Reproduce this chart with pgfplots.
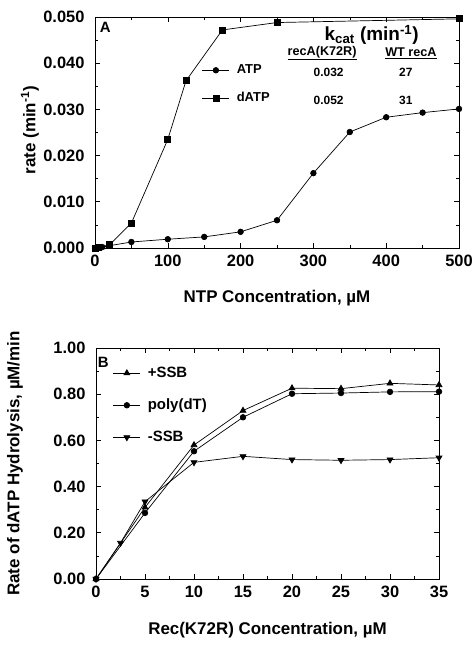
\documentclass[border=0pt]{standalone}
\usepackage{fontspec}
\setmainfont{Liberation Sans}
\usepackage{pgfplots}
\pgfplotsset{compat=1.18}
\begin{document}
\begin{tikzpicture}
\useasboundingbox (0bp,0bp) rectangle (472bp,645bp);
\pgfplotsset{
 common/.style={
  scale only axis, clip=false,
  axis line style={line width=0.8bp},
  tick align=inside,
  tick style={black, line width=0.6bp},
  major tick length=5bp, minor tick length=3bp,
  minor tick num=1,
  /pgf/number format/assume math mode=true,
  tick label style={font=\fontsize{16.5}{18}\selectfont\bfseries},
  xticklabel style={yshift=-4bp},
  yticklabel style={xshift=-7bp},
  label style={font=\fontsize{17}{19}\selectfont\bfseries},
  legend style={draw=none, fill=none, font=\fontsize{13}{15}\selectfont\bfseries,
    row sep=13bp, column sep=5bp, legend cell align=left},
  legend image code/.code={\draw[mark repeat=2,mark phase=2] plot coordinates {(0cm,0cm) (0.48cm,0cm) (0.96cm,0cm)};},
  every axis plot/.append style={black, line width=0.7bp},
 }
}
% Panel A
\begin{axis}[common,
  at={(95bp,397bp)}, anchor=south west,
  width=364bp, height=231bp,
  xmin=0, xmax=500, ymin=0, ymax=0.05,
  xtick={0,100,...,500},
  ytick={0,0.01,...,0.05},
  yticklabel style={/pgf/number format/fixed, /pgf/number format/precision=3, /pgf/number format/fixed zerofill},
  scaled y ticks=false,
  xlabel={NTP Concentration, µM},
  ylabel={rate (min\textsuperscript{-1})},
  xlabel style={at={(axis description cs:0.5,-0.216)}, anchor=center},
  ylabel style={at={(axis description cs:-0.179,0.51)}, anchor=center},
  legend style={at={(0.285,0.81)}, anchor=north west},
]
\addplot[mark=*, mark size=2.8bp] coordinates {
 (0,0) (10,0.0002) (20,0.0005) (50,0.0013) (100,0.0019) (150,0.0024) (200,0.0035)
 (250,0.006) (300,0.0162) (350,0.0251) (400,0.0283) (450,0.0293) (500,0.0301)};
\addlegendentry{ATP}
\addplot[mark=square*, mark size=3bp] coordinates {
 (0,0) (5,0.0001) (20,0.0007) (50,0.0054) (100,0.0235) (125,0.0362) (175,0.0472)
 (250,0.0488) (500,0.0496)};
\addlegendentry{dATP}
\node[font=\fontsize{15}{17}\selectfont\bfseries] at (axis cs:14,0.0478) {A};
\node[font=\fontsize{19}{21}\selectfont\bfseries] at (axis cs:380,0.0461) {k\textsubscript{cat} (min\textsuperscript{-1})};
\node[font=\fontsize{12.7}{14}\selectfont\bfseries] at (axis cs:312,0.0422) {\underline{recA(K72R)}};
\node[font=\fontsize{12.7}{14}\selectfont\bfseries] at (axis cs:434,0.0422) {\underline{WT recA}};
\node[font=\fontsize{12}{14}\selectfont\bfseries] at (axis cs:321,0.0381) {0.032};
\node[font=\fontsize{12}{14}\selectfont\bfseries] at (axis cs:427,0.0381) {27};
\node[font=\fontsize{12}{14}\selectfont\bfseries] at (axis cs:321,0.0320) {0.052};
\node[font=\fontsize{12}{14}\selectfont\bfseries] at (axis cs:427,0.0320) {31};
\end{axis}
% Panel B
\begin{axis}[common,
  at={(96bp,66bp)}, anchor=south west,
  width=343bp, height=231bp,
  xmin=0, xmax=35, ymin=0, ymax=1,
  xtick={0,5,...,35},
  ytick={0,0.2,...,1.0},
  yticklabel style={/pgf/number format/fixed, /pgf/number format/precision=2, /pgf/number format/fixed zerofill},
  xlabel={Rec(K72R) Concentration, µM},
  ylabel={Rate of dATP Hydrolysis, µM/min},
  xlabel style={at={(axis description cs:0.5,-0.22)}, anchor=center},
  ylabel style={at={(axis description cs:-0.236,0.50)}, anchor=center},
  legend style={at={(0.04,0.935)}, anchor=north west, row sep=16bp, font=\fontsize{15}{17}\selectfont\bfseries},
]
\addplot[mark=triangle*, mark size=3.4bp] coordinates {
 (0,0) (5,0.31) (10,0.58) (15,0.729) (20,0.826) (25,0.824) (30,0.847) (35,0.84)};
\addlegendentry{+SSB}
\addplot[mark=*, mark size=2.8bp] coordinates {
 (0,0) (5,0.286) (10,0.553) (15,0.70) (20,0.802) (25,0.805) (30,0.81) (35,0.811)};
\addlegendentry{poly(dT)}
\addplot[mark=triangle*, mark options={rotate=180}, mark size=3.4bp] coordinates {
 (0,0) (2.5,0.156) (5,0.335) (10,0.505) (15,0.531) (20,0.517) (25,0.514) (30,0.517) (35,0.525)};
\addlegendentry{-SSB}
\node[font=\fontsize{15}{17}\selectfont\bfseries] at (axis cs:0.75,0.939) {B};
\end{axis}
\end{tikzpicture}
\end{document}
